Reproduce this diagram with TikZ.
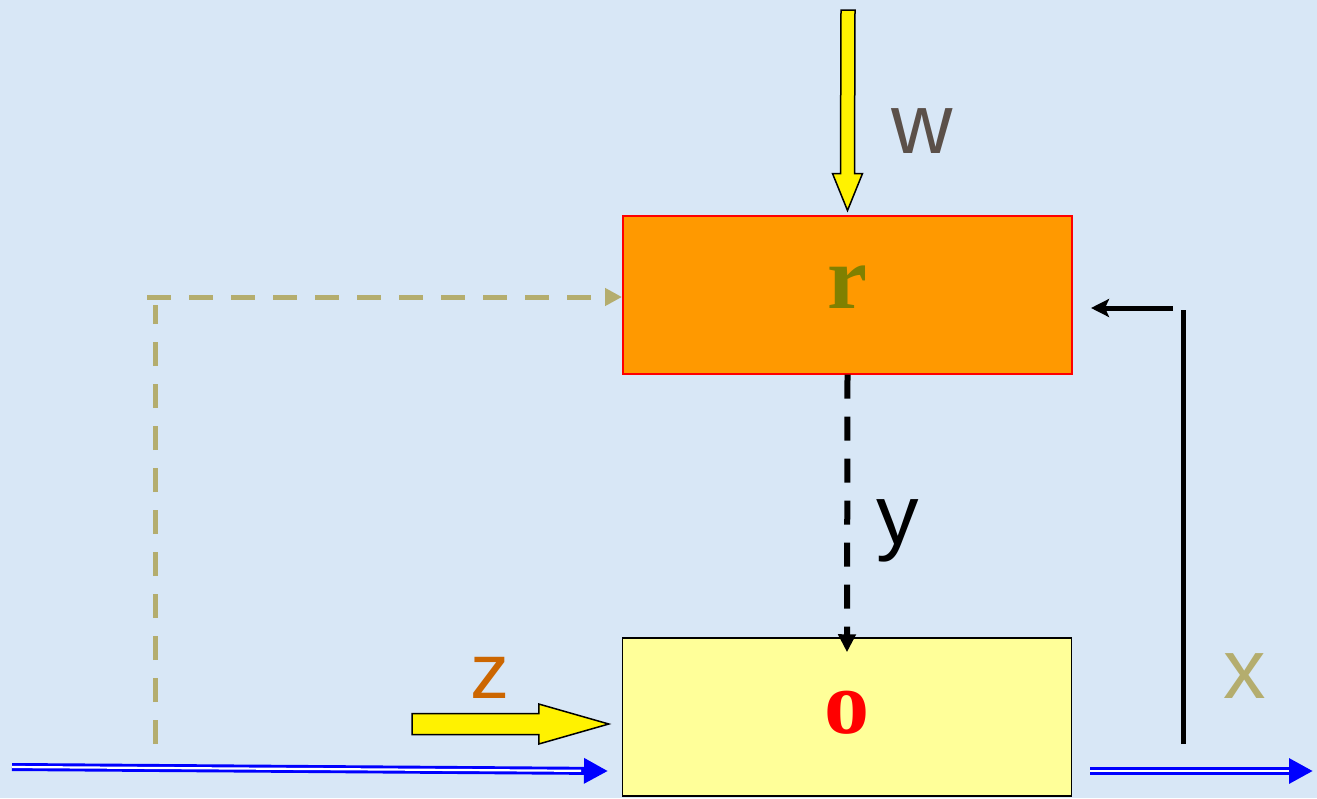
\documentclass[tikz,border=0pt]{standalone}
\usepackage{fontspec}
\setmainfont{Liberation Serif}
\setsansfont{Liberation Sans}
\usetikzlibrary{arrows.meta,calc}
\definecolor{bg}{RGB}{216,231,246}
\definecolor{orng}{RGB}{255,153,0}
\definecolor{lyel}{RGB}{255,255,153}
\definecolor{olive}{RGB}{128,128,0}
\definecolor{khaki}{RGB}{180,173,110}
\definecolor{wcol}{RGB}{91,80,73}
\definecolor{zcol}{RGB}{204,102,0}
\definecolor{bluearr}{RGB}{0,0,255}
\tikzset{
  box/.style={rectangle, minimum width=449pt, minimum height=158pt, inner sep=0pt},
  bigtxt/.style={font=\fontsize{90}{90}\selectfont\bfseries},
  lbl/.style={font=\sffamily\fontsize{85}{85}\selectfont, anchor=base, inner sep=0pt},
  blockarrow/.style={fill=yellow, draw=black, line width=1.5pt, line join=miter},
  khakidash/.style={draw=khaki, line width=5pt, dash pattern=on 24pt off 18pt},
  blackdash/.style={draw=black, line width=6pt, dash pattern=on 24pt off 18pt},
  feedback/.style={draw=black, line width=5pt},
  dblblue/.style={draw=bluearr, line width=8pt},
  dblgap/.style={draw=white, line width=2.2pt}
}
\begin{document}
\begin{tikzpicture}[x=1pt,y=-1pt]
\fill[bg] (0,0) rectangle (1317,798);
\useasboundingbox (0,0) rectangle (1317,798);

% boxes
\node[box, fill=orng, draw=red, line width=2pt, bigtxt, text=olive, text height=41pt, text depth=14pt] (r) at (847.5,294.5) {r};
\node[box, fill=lyel, draw=black, line width=1.5pt, bigtxt, text=red, text height=43pt, text depth=11pt] (o) at (847,717) {o};

% labels
\node[lbl, text=wcol] (lw) at (922,153) {w};
\node[lbl, text=black] (ly) at (898,544) {y};
\node[lbl, text=zcol, font=\sffamily\fontsize{78}{78}\selectfont] (lz) at (490,698) {z};
\node[lbl, text=khaki] (lx) at (1245,698) {x};

% w block arrow into r
\coordinate (wtop) at (848,10);
\draw[blockarrow] ($(wtop)+(-7,0)$) -- ($(r.north)+(-7,-41)$) -- ($(r.north)+(-15,-41)$)
  -- ($(r.north)+(0,-4)$) -- ($(r.north)+(15,-41)$) -- ($(r.north)+(7,-41)$)
  -- ($(wtop)+(7,0)$) -- cycle;

% z block arrow into o
\coordinate (ztail) at (412,724);
\coordinate (ztip) at ($(o.west)+(-13,7)$);
\draw[blockarrow] ($(ztail)+(0,-10.5)$) -- ($(ztip)+(-70,-10.5)$) -- ($(ztip)+(-70,-20)$)
  -- (ztip) -- ($(ztip)+(-70,20)$) -- ($(ztip)+(-70,10.5)$) -- ($(ztail)+(0,10.5)$) -- cycle;

% dashed y arrow r -> o
\draw[blackdash, -{Triangle[length=18pt,width=17pt]}] (r.south) -- ([yshift=-15pt]o.north);

% khaki dashed feed-forward
\coordinate (kb) at (155,744);
\coordinate (kc) at (155,305);
\coordinate (kh) at (147,297);
\draw[khakidash] (kb) -- (kc);
\draw[khakidash, -{Triangle[length=17pt,width=17pt]}] (kh) -- (kh -| r.west);

% feedback from output to r
\coordinate (fb) at (1183,744);
\coordinate (ft) at (1183,310);
\coordinate (fh) at (1173,308);
\draw[feedback] (fb) -- (ft);
\draw[feedback, -{Stealth[length=18pt,width=18pt,inset=4pt]}] (fh) -- ([xshift=18pt]fh -| r.east);

% blue double input arrow
\coordinate (inL) at (12,767);
\coordinate (inR) at (608,771);
\draw[dblblue, -{Triangle[length=24pt,width=24pt]}] (inL) -- (inR);
\draw[dblgap] (inL) -- ($(inL)!0.955!(inR)$);

% blue double output arrow
\coordinate (outL) at (1090,771);
\coordinate (outR) at (1313,771);
\draw[dblblue, -{Triangle[length=24pt,width=24pt]}] (outL) -- (outR);
\draw[dblgap] (outL) -- ($(outR)+(-24,0)$);
\end{tikzpicture}
\end{document}
